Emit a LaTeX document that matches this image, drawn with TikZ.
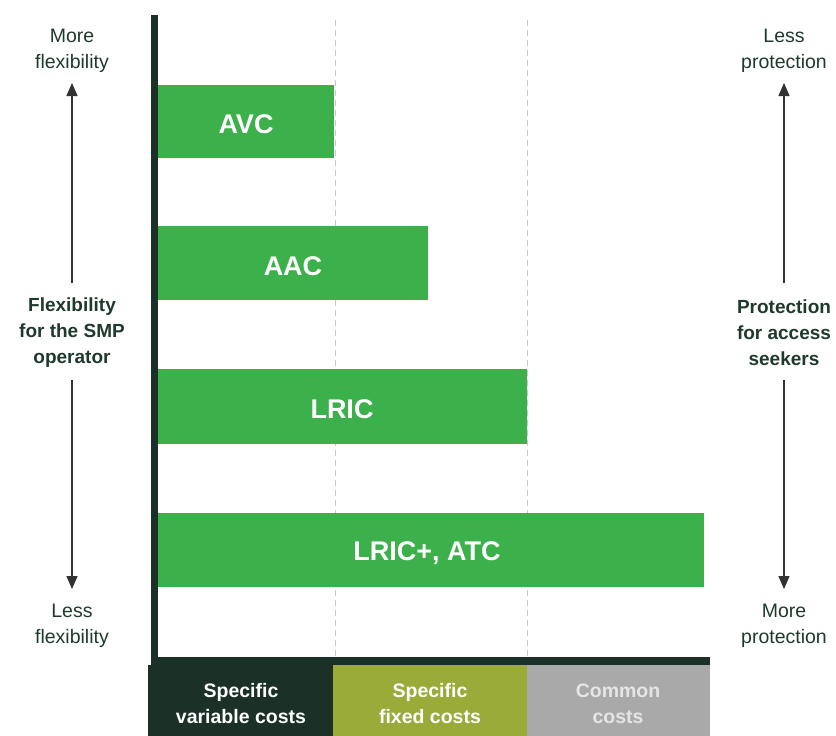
\documentclass[tikz,border=0pt]{standalone}
\usepackage{fontspec}
\setmainfont{Liberation Sans}
\usetikzlibrary{arrows.meta}
\definecolor{darkg}{HTML}{1B3127}
\definecolor{barg}{HTML}{3CB04A}
\definecolor{olive}{HTML}{9AAB3A}
\definecolor{greybox}{HTML}{A9A9A9}
\definecolor{txt}{HTML}{1E3A2C}
\definecolor{arr}{HTML}{333333}
\definecolor{dash}{HTML}{C8C8C8}
\tikzset{
  bar/.style={fill=barg, draw=none},
  barlabel/.style={font=\fontsize{27}{30}\selectfont\bfseries, text=white},
  side/.style={font=\fontsize{19.5}{26}\selectfont, text=txt, align=center},
  sidebold/.style={font=\fontsize{19}{26}\selectfont\bfseries, text=txt, align=center},
  bottomlabel/.style={font=\fontsize{19.5}{26}\selectfont\bfseries, align=center},
  arrowline/.style={draw=arr, line width=1.2pt, -{Triangle[width=11pt,length=13pt]}},
  guide/.style={draw=dash, line width=0.8pt, dash pattern=on 6pt off 4pt},
}
\begin{document}
\begin{tikzpicture}[x=1pt,y=-1pt]
\useasboundingbox (0,0) rectangle (836,736);
% guides
\draw[guide] (335,20) -- (335,657);
\draw[guide] (527,20) -- (527,657);
% bars
\fill[bar] (158,85) rectangle (334,158);
\fill[bar] (158,226) rectangle (428,300);
\fill[bar] (158,369) rectangle (527,444);
\fill[bar] (158,513) rectangle (704,587);
\node[barlabel] (avc) at (246,124) {AVC};
\node[barlabel] (aac) at (293,266) {AAC};
\node[barlabel] (lric) at (342,409) {LRIC};
\node[barlabel] (lricp) at (427,553) {LRIC+, ATC};
% axis
\fill[darkg] (151,15) rectangle (158,665);
\fill[darkg] (151,657) rectangle (710,665);
% bottom boxes
\fill[darkg] (148,665) rectangle (333,736);
\fill[olive] (333,665) rectangle (527,736);
\fill[greybox] (527,665) rectangle (710,736);
\node[bottomlabel, text=white] (svc) at (241,704) {Specific\\variable costs};
\node[bottomlabel, text=white] (sfc) at (430,704) {Specific\\fixed costs};
\node[bottomlabel, text=white!90!black] (cc) at (618,704) {Common\\costs};
% left side
\node[side] (moreflex) at (72,51) {More\\flexibility};
\node[side] (lessflex) at (72,626) {Less\\flexibility};
\node[sidebold] (flex) at (72,333) {Flexibility\\for the SMP\\operator};
\coordinate (lup1) at (72,283);
\coordinate (lup2) at (72,83);
\coordinate (ldn1) at (72,380);
\coordinate (ldn2) at (72,589);
\draw[arrowline] (lup1) -- (lup2);
\draw[arrowline] (ldn1) -- (ldn2);
% right side
\node[side] (lessprot) at (784,51) {Less\\protection};
\node[side] (moreprot) at (784,626) {More\\protection};
\node[sidebold] (prot) at (784,333) {Protection\\for access\\seekers};
\coordinate (rup1) at (784,283);
\coordinate (rup2) at (784,83);
\coordinate (rdn1) at (784,380);
\coordinate (rdn2) at (784,589);
\draw[arrowline] (rup1) -- (rup2);
\draw[arrowline] (rdn1) -- (rdn2);
\end{tikzpicture}
\end{document}
